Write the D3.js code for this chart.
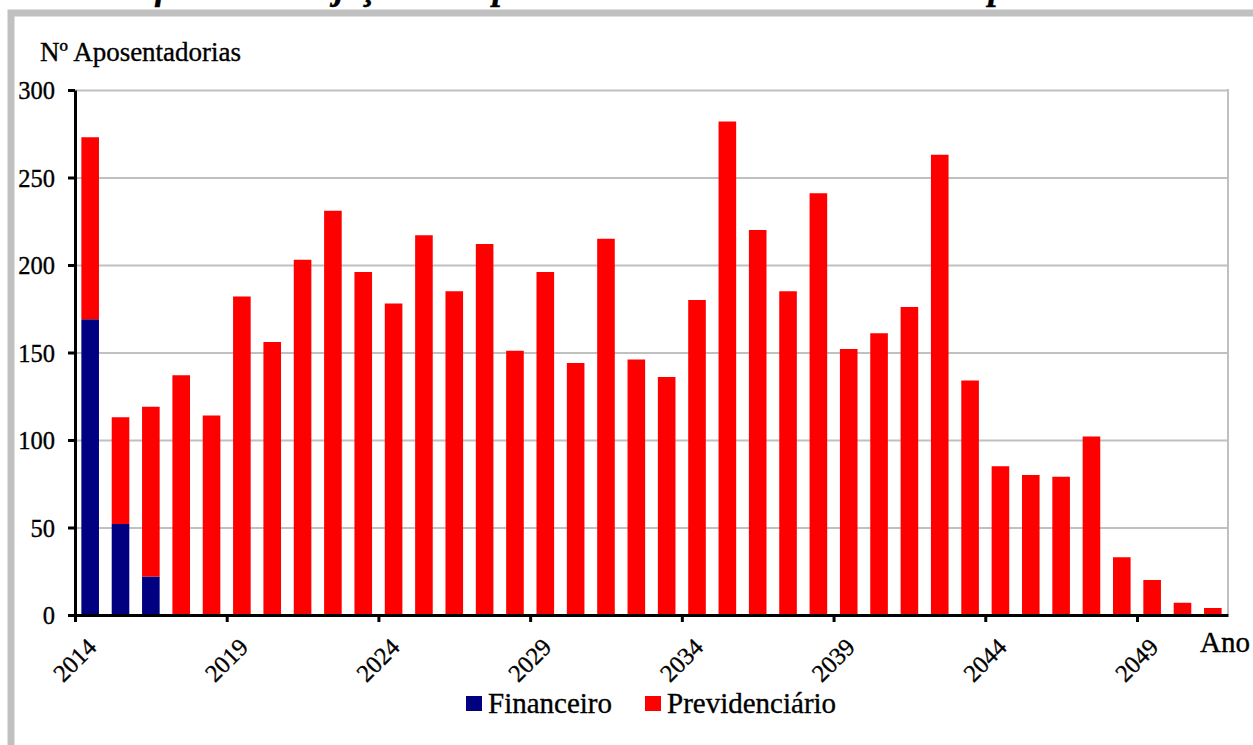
<!DOCTYPE html>
<html>
<head>
<meta charset="utf-8">
<script src="https://cdn.jsdelivr.net/npm/d3@7"></script>
<style>
  body { margin: 0; background: #fff; }
  svg { display: block; }
  svg text { font-family: 'Liberation Serif', 'Times New Roman', Tinos, 'DejaVu Serif', serif; fill: #000; stroke: #000; stroke-width: 0.35px; }
  .axis path, .axis line { stroke: #000; stroke-width: 3; }
  .axis text { font-size: 24.5px; }
  .grid line { stroke: #c0c0c0; stroke-width: 2; }
  .grid path { display: none; }
</style>
</head>
<body>
<svg width="1253" height="745"></svg>
<script>
// anos (categorias)
var years = [2014, 2015, 2016, 2017, 2018, 2019, 2020, 2021, 2022, 2023,
    2024, 2025, 2026, 2027, 2028, 2029, 2030, 2031, 2032, 2033,
    2034, 2035, 2036, 2037, 2038, 2039, 2040, 2041, 2042, 2043,
    2044, 2045, 2046, 2047, 2048, 2049, 2050, 2051]

// aposentadorias por massa
var financeiro = [169, 52, 22, 0, 0, 0, 0, 0, 0, 0,
    0, 0, 0, 0, 0, 0, 0, 0, 0, 0,
    0, 0, 0, 0, 0, 0, 0, 0, 0, 0,
    0, 0, 0, 0, 0, 0, 0, 0]
var previdenciario = [104, 61, 97, 137, 114, 182, 156, 203, 231, 196,
    178, 217, 185, 212, 151, 196, 144, 215, 146, 136,
    180, 282, 220, 185, 241, 152, 161, 176, 263, 134,
    85, 80, 79, 102, 33, 20, 7, 4]

var seriesNames = ['Financeiro', 'Previdenciário']
var seriesColors = ['#000080', '#ff0000']
var yTicks = [0, 50, 100, 150, 200, 250, 300]
var xTickYears = [2014, 2019, 2024, 2029, 2034, 2039, 2044, 2049]

var svg = d3.select('svg')

// moldura externa (cortada a direita e embaixo)
svg.append('rect')
    .attr('x', 11).attr('y', 13)
    .attr('width', 1400).attr('height', 900)
    .attr('fill', 'none')
    .attr('stroke', '#c0c0c0')
    .attr('stroke-width', 7)

// titulo, quase todo fora da area
svg.append('text')
    .attr('x', 95).attr('y', -1)
    .attr('font-size', 36)
    .attr('font-weight', 'bold')
    .attr('font-style', 'italic')
    .attr('textLength', 1053)
    .attr('lengthAdjust', 'spacing')
    .text('Gráfico 7 – Projeção de Aposentadorias dos Atuais Ativos por Massa')

var plot = { left: 75, right: 1228, top: 90, bottom: 615 }

var table = years.map(function(y, i) {
    return { year: y, Financeiro: financeiro[i], 'Previdenciário': previdenciario[i] }
})

var x = d3.scaleBand()
    .domain(years)
    .range([plot.left, plot.right])
    .paddingInner(0.42)
    .paddingOuter(0.21)

// escala das bordas das categorias, usada para os ticks do eixo x
var xEdge = d3.scaleLinear()
    .domain([years[0], years[years.length - 1] + 1])
    .range([plot.left, plot.right])

var y = d3.scaleLinear()
    .domain([0, 300])
    .range([plot.bottom, plot.top])

// linhas de grade
svg.append('g')
    .attr('class', 'grid')
    .attr('transform', 'translate(' + plot.left + ',0)')
    .call(d3.axisLeft(y).tickValues(yTicks.slice(1)).tickSize(-(plot.right - plot.left)).tickFormat(''))

svg.append('line')
    .attr('x1', plot.right).attr('x2', plot.right)
    .attr('y1', plot.top - 1).attr('y2', plot.bottom)
    .attr('stroke', '#c0c0c0')
    .attr('stroke-width', 2)

// barras empilhadas
var stacked = d3.stack().keys(seriesNames)(table)

svg.append('g')
    .selectAll('g')
    .data(stacked)
    .enter()
    .append('g')
    .attr('fill', function(d, i) { return seriesColors[i] })
    .selectAll('rect')
    .data(function(d) { return d.filter(function(p) { return p[1] > p[0] }) })
    .enter()
    .append('rect')
    .attr('x', function(d) { return x(d.data.year) })
    .attr('width', x.bandwidth())
    .attr('y', function(d) { return y(d[1]) })
    .attr('height', function(d) { return y(d[0]) - y(d[1]) })

// eixo y
var yAxis = svg.append('g')
    .attr('class', 'axis')
    .attr('transform', 'translate(' + plot.left + ',0)')
    .call(d3.axisLeft(y).tickValues(yTicks).tickSize(7).tickSizeOuter(0).tickPadding(13))
yAxis.attr('font-family', null)
yAxis.selectAll('text').attr('dy', '0.35em')

// eixo x
var xAxis = svg.append('g')
    .attr('class', 'axis')
    .attr('transform', 'translate(0,' + plot.bottom + ')')
    .call(d3.axisBottom(xEdge).tickValues(xTickYears).tickFormat(d3.format('d')).tickSize(7).tickSizeOuter(0))
xAxis.attr('font-family', null)

xAxis.selectAll('text')
    .attr('y', 0)
    .attr('dy', 0)
    .attr('text-anchor', 'middle')
    .attr('dominant-baseline', 'central')
    .attr('transform', 'translate(-1,45) rotate(-45)')

// titulos dos eixos
svg.append('text')
    .attr('x', 40).attr('y', 61)
    .attr('font-size', 27)
    .text('Nº Aposentadorias')

svg.append('text')
    .attr('x', 1200).attr('y', 652)
    .attr('font-size', 29)
    .text('Ano')

// legenda
var legend = svg.append('g')
    .attr('transform', 'translate(466,696)')

var item = legend.selectAll('g')
    .data(seriesNames)
    .enter()
    .append('g')
    .attr('transform', function(d, i) { return 'translate(' + (i * 179) + ',0)' })

item.append('rect')
    .attr('width', 16).attr('height', 15)
    .attr('fill', function(d, i) { return seriesColors[i] })

item.append('text')
    .attr('x', 22).attr('y', 17)
    .attr('font-size', 29)
    .text(function(d) { return d })
</script>
</body>
</html>
